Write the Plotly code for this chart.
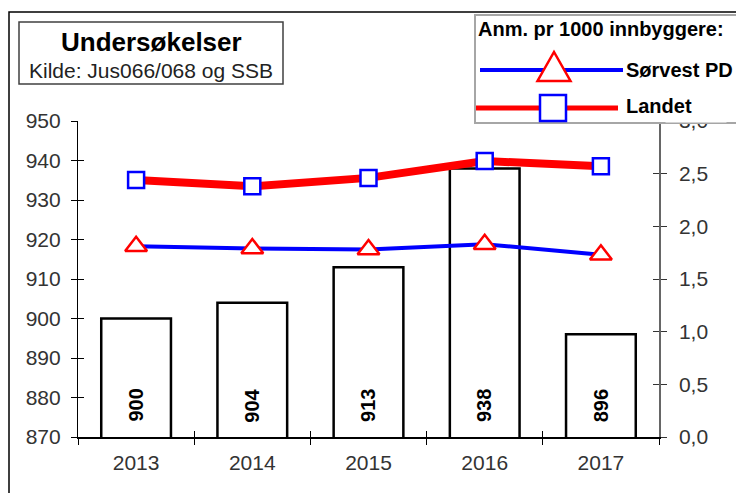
import plotly.graph_objects as go

# data
years = ["2013", "2014", "2015", "2016", "2017"]
undersokelser = [900, 904, 913, 938, 896]
sorvest_pd = [1.81, 1.79, 1.78, 1.83, 1.73]
landet = [2.44, 2.38, 2.46, 2.62, 2.57]

W, H = 736, 493
L, R, T, B = 78, 77, 121, 56
FONT = "Liberation Sans, Arial, sans-serif"


# pixel -> paper helpers for the decorations (frame, title box, legend)
def px(x):
    return (x - L) / (W - L - R)


def py(y):
    return (H - B - y) / (H - T - B)


fig = go.Figure()

fig.add_trace(go.Bar(
    x=years, y=undersokelser, width=0.6,
    marker=dict(color="white", line=dict(color="black", width=2.5)),
    showlegend=False, hoverinfo="x+y",
))
fig.add_trace(go.Scatter(
    x=years, y=sorvest_pd, yaxis="y2", mode="lines+markers", name="Sørvest PD",
    line=dict(color="#0000ff", width=4),
    marker=dict(symbol="triangle-up", size=19, color="white",
                line=dict(color="#ff0000", width=2.5)),
    showlegend=False,
))
fig.add_trace(go.Scatter(
    x=years, y=landet, yaxis="y2", mode="lines+markers", name="Landet",
    line=dict(color="#ff0000", width=8),
    marker=dict(symbol="square", size=16, color="white",
                line=dict(color="#0000ff", width=2.5)),
    showlegend=False,
))
# invisible traces carrying the overlay axes used for the inner half of the cross ticks
fig.add_trace(go.Scatter(x=years, y=undersokelser, xaxis="x2", yaxis="y3", mode="markers",
                         marker=dict(opacity=0), showlegend=False, hoverinfo="skip"))
fig.add_trace(go.Scatter(x=years, y=landet, xaxis="x2", yaxis="y4", mode="markers",
                         marker=dict(opacity=0), showlegend=False, hoverinfo="skip"))

# bar values, rotated, near the base
for i, v in enumerate(undersokelser):
    fig.add_annotation(x=i, y=878, xref="x", yref="y", text="<b>%d</b>" % v, textangle=-90,
                       showarrow=False, xanchor="center", yanchor="middle",
                       font=dict(family=FONT, size=20, color="black"))

tickfont = dict(family=FONT, size=21, color="#333333")

fig.update_layout(
    width=W, height=H,
    margin=dict(l=L, r=R, t=T, b=B),
    paper_bgcolor="white", plot_bgcolor="white",
    separators=",.",
    bargap=0.4,
    xaxis=dict(type="category", categoryarray=years, range=[-0.5, 4.5],
               showgrid=False, showline=True, linecolor="black", linewidth=1.5,
               ticks="outside", tickson="boundaries", ticklen=6, tickcolor="black",
               tickfont=tickfont, ticklabelstandoff=6, zeroline=False),
    xaxis2=dict(type="category", categoryarray=years, range=[-0.5, 4.5], overlaying="x",
                anchor="y", showgrid=False, showline=False, ticks="inside",
                tickson="boundaries", ticklen=6, tickcolor="black", showticklabels=False),
    yaxis=dict(range=[870, 950], dtick=10, showgrid=False, zeroline=False,
               showline=True, linecolor="black", linewidth=1.2,
               ticks="outside", ticklen=6, tickcolor="black",
               tickfont=tickfont, ticklabelstandoff=6),
    yaxis3=dict(range=[870, 950], dtick=10, overlaying="y", side="left", anchor="x",
                showgrid=False, zeroline=False, showline=False,
                ticks="inside", ticklen=6, tickcolor="black", showticklabels=False),
    yaxis2=dict(range=[0, 3], dtick=0.5, tickformat=".1f", overlaying="y", side="right",
                anchor="x", showgrid=False, zeroline=False,
                showline=True, linecolor="#666666", linewidth=1.5,
                ticks="outside", ticklen=6, tickcolor="#333333",
                tickfont=tickfont, ticklabelstandoff=8),
    yaxis4=dict(range=[0, 3], dtick=0.5, overlaying="y", side="right", anchor="x",
                showgrid=False, zeroline=False, showline=False,
                ticks="inside", ticklen=6, tickcolor="#333333", showticklabels=False),
)

shapes = []
# outer chart frame (runs off right and bottom edge)
shapes.append(dict(type="rect", xref="paper", yref="paper", layer="above",
                   x0=px(9), x1=px(800), y0=py(12), y1=py(560),
                   line=dict(color="black", width=1.5)))
# title box
shapes.append(dict(type="rect", xref="paper", yref="paper", layer="above",
                   x0=px(19), x1=px(283), y0=py(22), y1=py(84),
                   fillcolor="white", line=dict(color="#404040", width=1.5)))
# legend box
shapes.append(dict(type="rect", xref="paper", yref="paper", layer="above",
                   x0=px(475), x1=px(790), y0=py(15), y1=py(123),
                   fillcolor="white", line=dict(color="#a6a6a6", width=2)))
# legend samples
shapes.append(dict(type="line", xref="paper", yref="paper", layer="above",
                   x0=px(480), x1=px(623), y0=py(70), y1=py(70),
                   line=dict(color="#0000ff", width=4)))
shapes.append(dict(type="path", xref="paper", yref="paper", layer="above",
                   path="M %f,%f L %f,%f L %f,%f Z" % (px(537.5), py(81), px(570.5), py(81),
                                                       px(554), py(52)),
                   fillcolor="white", line=dict(color="#ff0000", width=2.5)))
shapes.append(dict(type="line", xref="paper", yref="paper", layer="above",
                   x0=px(476), x1=px(618), y0=py(108), y1=py(108),
                   line=dict(color="#ff0000", width=5)))
shapes.append(dict(type="rect", xref="paper", yref="paper", layer="above",
                   x0=px(540), x1=px(566), y0=py(95), y1=py(121),
                   fillcolor="white", line=dict(color="#0000ff", width=2.5)))
fig.update_layout(shapes=shapes)

# white patch so the legend box hides the upper part of the "3,0" label
fig.add_annotation(xref="paper", yref="paper", x=px(665), y=py(114.5), xanchor="left",
                   yanchor="top", text=" ", width=60, height=7, borderpad=0,
                   bgcolor="white", showarrow=False)

texts = [
    (151, 42, "center", "<b>Undersøkelser</b>", 26, "black"),
    (151, 70, "center", "Kilde: Jus066/068 og SSB", 21, "#222222"),
    (476, 29, "left", "<b>Anm. pr 1000 innbyggere:</b>", 20, "black"),
    (624, 70, "left", "<b>Sørvest PD</b>", 20, "black"),
    (624, 106, "left", "<b>Landet</b>", 20, "black"),
]
for x, y, anchor, txt, size, color in texts:
    fig.add_annotation(xref="paper", yref="paper", x=px(x), y=py(y), xanchor=anchor,
                       yanchor="middle", text=txt, showarrow=False,
                       font=dict(family=FONT, size=size, color=color))

fig.write_html("out.html", config={"displayModeBar": False},
               post_script="document.body.style.margin='0';")
